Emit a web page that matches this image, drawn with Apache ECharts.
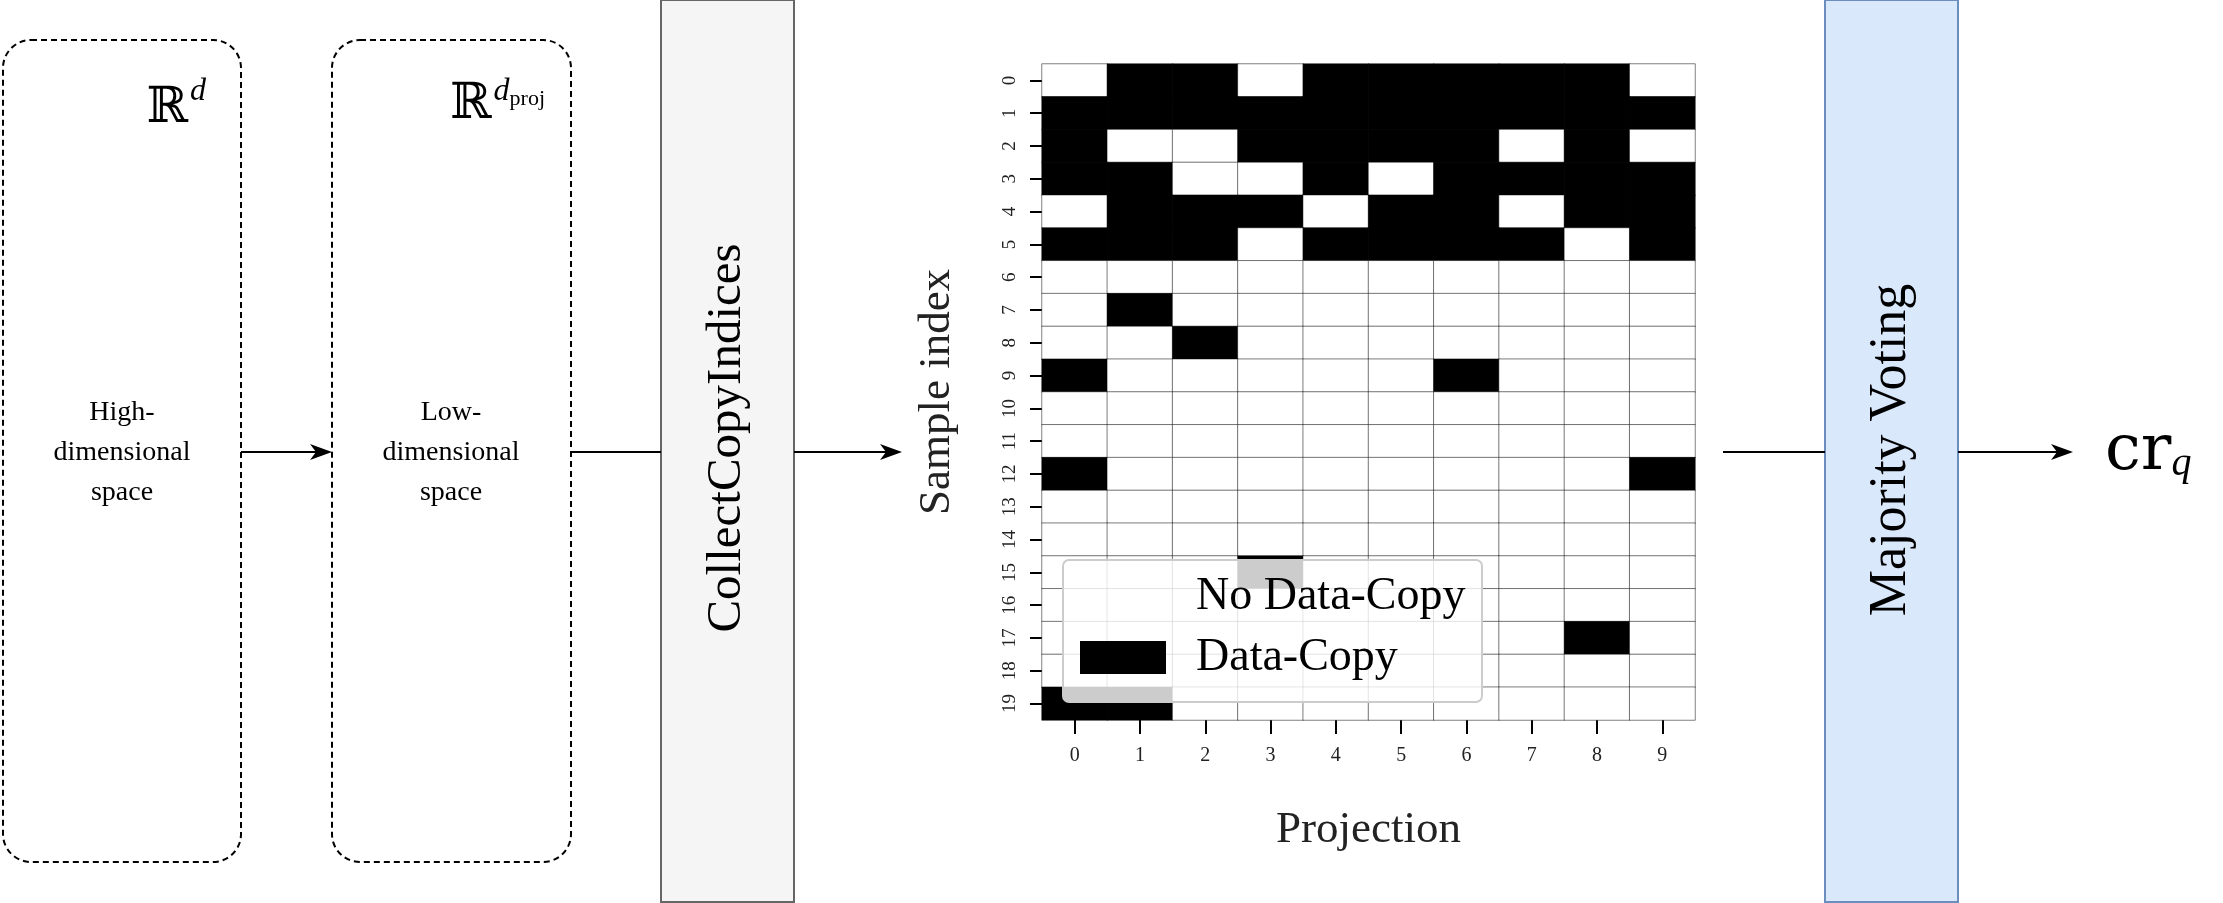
<!DOCTYPE html>
<html>
<head>
<meta charset="utf-8">
<script src="https://cdn.jsdelivr.net/npm/echarts@6/dist/echarts.min.js"></script>
<style>html,body{margin:0;padding:0;background:#fff}#chart-container{width:2223px;height:903px}</style>
</head>
<body>
<div id="chart-container"></div>
<script>
var dom = document.getElementById("chart-container");
var myChart = echarts.init(dom, null, { renderer: "canvas" });

// projections (columns) and samples (rows)
const projections = ["0", "1", "2", "3", "4", "5", "6", "7", "8", "9"];
const samples = ["0", "1", "2", "3", "4", "5", "6", "7", "8", "9",
  "10", "11", "12", "13", "14", "15", "16", "17", "18", "19"];

// 1 = data-copy, one array per sample row
const copyRows = [
  [0, 1, 1, 0, 1, 1, 1, 1, 1, 0],
  [1, 1, 1, 1, 1, 1, 1, 1, 1, 1],
  [1, 0, 0, 1, 1, 1, 1, 0, 1, 0],
  [1, 1, 0, 0, 1, 0, 1, 1, 1, 1],
  [0, 1, 1, 1, 0, 1, 1, 0, 1, 1],
  [1, 1, 1, 0, 1, 1, 1, 1, 0, 1],
  [0, 0, 0, 0, 0, 0, 0, 0, 0, 0],
  [0, 1, 0, 0, 0, 0, 0, 0, 0, 0],
  [0, 0, 1, 0, 0, 0, 0, 0, 0, 0],
  [1, 0, 0, 0, 0, 0, 1, 0, 0, 0],
  [0, 0, 0, 0, 0, 0, 0, 0, 0, 0],
  [0, 0, 0, 0, 0, 0, 0, 0, 0, 0],
  [1, 0, 0, 0, 0, 0, 0, 0, 0, 1],
  [0, 0, 0, 0, 0, 0, 0, 0, 0, 0],
  [0, 0, 0, 0, 0, 0, 0, 0, 0, 0],
  [0, 0, 0, 1, 0, 0, 0, 0, 0, 0],
  [0, 0, 0, 0, 0, 0, 0, 0, 0, 0],
  [0, 0, 0, 0, 0, 0, 0, 0, 1, 0],
  [0, 0, 0, 0, 0, 0, 0, 0, 0, 0],
  [1, 1, 0, 0, 0, 0, 0, 0, 0, 0]
];
const legendLabels = ["No Data-Copy", "Data-Copy"];

var cells = [];
copyRows.forEach(function (row, r) {
  row.forEach(function (v, c) { cells.push([c, r, v]); });
});

const serif = "Liberation Serif";

function arrow(x1, y, x2, head) {
  var g = [{ type: "line", shape: { x1: x1, y1: y, x2: head ? x2 - 4 : x2, y2: y },
    style: { stroke: "#000", lineWidth: 2 } }];
  if (head) {
    g.push({ type: "polygon", shape: { points: [[x2, y], [x2 - 22, y - 8], [x2 - 16, y], [x2 - 22, y + 8]] },
      style: { fill: "#000" } });
  }
  return g;
}

var graphics = [
  { type: "rect", shape: { x: 3, y: 40, width: 238, height: 822, r: 28 },
    style: { fill: "none", stroke: "#000", lineWidth: 2, lineDash: [6, 4] } },
  { type: "rect", shape: { x: 332, y: 40, width: 239, height: 822, r: 28 },
    style: { fill: "none", stroke: "#000", lineWidth: 2, lineDash: [6, 4] } },
  { type: "text", x: 122, y: 453, style: { text: "High-\ndimensional\nspace", font: "28px " + serif,
    fill: "#000", align: "center", verticalAlign: "middle", lineHeight: 40 } },
  { type: "text", x: 451, y: 453, style: { text: "Low-\ndimensional\nspace", font: "28px " + serif,
    fill: "#000", align: "center", verticalAlign: "middle", lineHeight: 40 } },
  { type: "text", x: 206, y: 105, style: { text: "{b|ℝ}{s|d}", align: "right", verticalAlign: "middle",
    rich: { b: { fontSize: 50, fontFamily: "DejaVu Serif", verticalAlign: "bottom" },
            s: { fontSize: 32, fontFamily: serif, fontStyle: "italic", verticalAlign: "top", padding: [0, 0, 26, 2] } } } },
  { type: "text", x: 545, y: 105, style: { text: "{b|ℝ}{s|d}{p|proj}", align: "right", verticalAlign: "middle",
    rich: { b: { fontSize: 50, fontFamily: "DejaVu Serif" },
            s: { fontSize: 32, fontFamily: serif, fontStyle: "italic", padding: [0, 0, 26, 2] },
            p: { fontSize: 22, fontFamily: serif, padding: [0, 0, 12, 0] } } } },
  { type: "rect", shape: { x: 661, y: 0, width: 133, height: 902 },
    style: { fill: "#f5f5f5", stroke: "#666", lineWidth: 2 } },
  { type: "text", x: 727, y: 438, rotation: Math.PI / 2, style: { text: "CollectCopyIndices",
    font: "49px " + serif, fill: "#000", align: "center", verticalAlign: "middle" } },
  { type: "rect", shape: { x: 1825, y: 0, width: 133, height: 902 },
    style: { fill: "#dae8fc", stroke: "#6c8ebf", lineWidth: 2 } },
  { type: "text", x: 1891, y: 450, rotation: Math.PI / 2, style: { text: "Majority Voting",
    font: "52px " + serif, fill: "#000", align: "center", verticalAlign: "middle" } },
  { type: "text", x: 2105, y: 452, style: { text: "{c|cr}{q|q}", verticalAlign: "middle",
    rich: { c: { fontSize: 64, fontFamily: "DejaVu Serif" },
            q: { fontSize: 40, fontFamily: serif, fontStyle: "italic", padding: [24, 0, 0, 0] } } } },
  // legend
  { type: "rect", z: 100, shape: { x: 1063, y: 560, width: 419, height: 142, r: 6 },
    style: { fill: "rgba(255,255,255,0.8)", stroke: "#ccc", lineWidth: 2 } },
  { type: "rect", z: 101, shape: { x: 1080, y: 641, width: 86, height: 33 }, style: { fill: "#000" } },
  { type: "text", z: 101, x: 1196, y: 597, style: { text: legendLabels[0], font: "46px " + serif,
    fill: "#000", verticalAlign: "middle" } },
  { type: "text", z: 101, x: 1196, y: 658, style: { text: legendLabels[1], font: "46px " + serif,
    fill: "#000", verticalAlign: "middle" } }
];
graphics = graphics.concat(arrow(241, 452, 332, true), arrow(571, 452, 661, false),
  arrow(794, 452, 902, true), arrow(1723, 452, 1825, false), arrow(1958, 452, 2073, true));

var option = {
  animation: false,
  grid: { left: 1042, top: 64, width: 653, height: 656 },
  xAxis: {
    type: "category", data: projections, position: "bottom",
    name: "Projection", nameLocation: "middle", nameGap: 88,
    nameTextStyle: { fontFamily: serif, fontSize: 45, color: "#222" },
    axisLine: { show: false },
    axisTick: { show: true, alignWithLabel: true, length: 14, lineStyle: { color: "#000", width: 2 } },
    axisLabel: { fontFamily: serif, fontSize: 20, color: "#222", margin: 26 },
    splitArea: { show: false }
  },
  yAxis: {
    type: "category", data: samples, inverse: true,
    name: "Sample index", nameLocation: "middle", nameGap: 82, nameRotate: 90,
    nameTextStyle: { fontFamily: serif, fontSize: 45, color: "#222" },
    axisLine: { show: false },
    axisTick: { show: true, alignWithLabel: true, length: 12, lineStyle: { color: "#000", width: 2 } },
    axisLabel: { fontFamily: serif, fontSize: 19, color: "#222", rotate: 90, margin: 22 }
  },
  visualMap: {
    show: false, type: "piecewise", dimension: 2,
    pieces: [{ value: 0, color: "#fff" }, { value: 1, color: "#000" }]
  },
  series: [{ type: "heatmap", data: cells, itemStyle: { borderWidth: 0.5, borderColor: "inherit" } }],
  graphic: graphics
};

myChart.setOption(option);
window.addEventListener("resize", myChart.resize);
</script>
</body>
</html>
